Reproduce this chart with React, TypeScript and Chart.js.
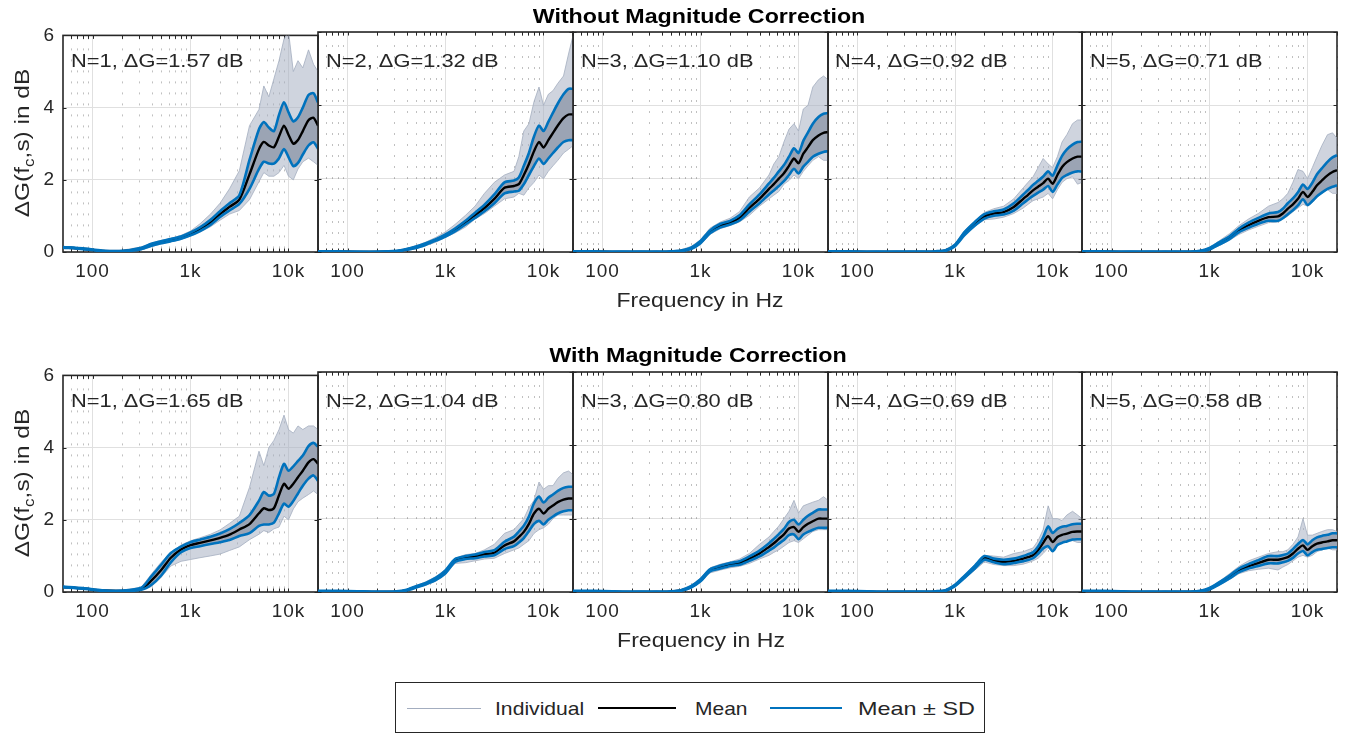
import React, { useEffect, useLayoutEffect, useRef } from "react";
import { Chart, registerables } from "chart.js";

Chart.register(...registerables);

// ---------------- data ----------------
const FREQ = [50, 80, 125, 200, 315, 400, 500, 630, 800, 1000, 1250, 1600, 2000, 2500, 3150, 4000, 5000, 5600, 6300, 7100, 8000, 9000, 10000, 11200, 12500, 14000, 16000, 18000, 20000];
const X_TICKS = [100, 1000, 10000];
const X_TICK_LABELS = ["100", "1k", "10k"];
const X_MINOR = [60, 70, 80, 90, 200, 300, 400, 500, 600, 700, 800, 900, 2000, 3000, 4000, 5000, 6000, 7000, 8000, 9000, 20000];
const Y_TICKS = [0, 2, 4, 6];

const TITLE_TOP = "Without Magnitude Correction";
const TITLE_BOTTOM = "With Magnitude Correction";
const LABELS_TOP = ["N=1, \u0394G=1.57 dB", "N=2, \u0394G=1.32 dB", "N=3, \u0394G=1.10 dB", "N=4, \u0394G=0.92 dB", "N=5, \u0394G=0.71 dB"];
const LABELS_BOTTOM = ["N=1, \u0394G=1.65 dB", "N=2, \u0394G=1.04 dB", "N=3, \u0394G=0.80 dB", "N=4, \u0394G=0.69 dB", "N=5, \u0394G=0.58 dB"];
const LEGEND_LABELS = ["Individual", "Mean", "Mean \u00b1 SD"];

// Without magnitude correction
const woN1Mean = [0.13, 0.09, 0.03, 0.02, 0.10, 0.20, 0.27, 0.33, 0.40, 0.50, 0.63, 0.82, 1.05, 1.25, 1.45, 2.15, 2.85, 3.05, 2.95, 2.90, 3.20, 3.50, 3.25, 3.00, 3.10, 3.35, 3.65, 3.72, 3.50];
const woN1Sd = [0.01, 0.01, 0.01, 0.01, 0.02, 0.03, 0.03, 0.03, 0.03, 0.04, 0.05, 0.07, 0.08, 0.10, 0.12, 0.40, 0.55, 0.55, 0.50, 0.45, 0.60, 0.65, 0.62, 0.62, 0.63, 0.65, 0.70, 0.68, 0.64];
const woN1Hi = [0.15, 0.11, 0.05, 0.05, 0.14, 0.25, 0.32, 0.38, 0.46, 0.58, 0.78, 1.05, 1.35, 1.75, 2.25, 3.50, 3.95, 4.60, 4.30, 4.80, 5.30, 5.90, 6.10, 5.00, 5.30, 5.10, 5.60, 5.20, 5.00];
const woN1Lo = [0.11, 0.07, 0.01, 0.00, 0.06, 0.15, 0.22, 0.28, 0.35, 0.44, 0.55, 0.70, 0.88, 1.05, 1.15, 1.45, 1.95, 2.20, 2.10, 2.10, 2.20, 2.40, 2.10, 2.00, 2.30, 2.50, 2.60, 2.50, 2.40];

const woN2Mean = [0.01, 0.01, 0.00, 0.00, 0.02, 0.07, 0.13, 0.22, 0.33, 0.45, 0.60, 0.80, 1.00, 1.20, 1.45, 1.75, 1.80, 1.85, 2.10, 2.40, 2.75, 3.00, 2.85, 3.05, 3.25, 3.45, 3.65, 3.75, 3.75];
const woN2Sd = [0.01, 0.01, 0.01, 0.01, 0.01, 0.01, 0.02, 0.02, 0.02, 0.03, 0.04, 0.05, 0.07, 0.09, 0.12, 0.15, 0.15, 0.18, 0.25, 0.30, 0.40, 0.45, 0.45, 0.50, 0.55, 0.60, 0.65, 0.70, 0.70];
const woN2Hi = [0.03, 0.03, 0.02, 0.02, 0.04, 0.10, 0.17, 0.27, 0.40, 0.55, 0.75, 1.00, 1.25, 1.60, 1.90, 2.10, 2.20, 2.60, 3.30, 3.50, 4.10, 4.50, 4.00, 4.30, 4.40, 4.60, 4.80, 5.40, 5.90];
const woN2Lo = [0.00, 0.00, 0.00, 0.00, 0.00, 0.04, 0.09, 0.17, 0.27, 0.40, 0.52, 0.68, 0.90, 1.05, 1.25, 1.45, 1.50, 1.60, 1.55, 1.75, 1.90, 2.10, 2.00, 2.20, 2.35, 2.50, 2.70, 2.80, 2.90];

const woN3Mean = [0.01, 0.01, 0.00, 0.00, 0.00, 0.00, 0.01, 0.03, 0.10, 0.27, 0.55, 0.72, 0.80, 0.93, 1.20, 1.45, 1.72, 1.85, 2.00, 2.15, 2.35, 2.55, 2.42, 2.68, 2.86, 3.05, 3.18, 3.25, 3.27];
const woN3Sd = [0.01, 0.01, 0.01, 0.01, 0.01, 0.01, 0.01, 0.01, 0.02, 0.03, 0.04, 0.05, 0.05, 0.07, 0.10, 0.12, 0.15, 0.17, 0.20, 0.22, 0.25, 0.28, 0.28, 0.35, 0.40, 0.45, 0.50, 0.52, 0.52];
const woN3Hi = [0.03, 0.03, 0.02, 0.02, 0.02, 0.02, 0.03, 0.06, 0.15, 0.33, 0.65, 0.82, 0.92, 1.10, 1.50, 1.75, 2.10, 2.40, 2.60, 3.00, 3.35, 3.50, 3.30, 3.90, 4.00, 4.50, 4.70, 4.80, 4.70];
const woN3Lo = [0.00, 0.00, 0.00, 0.00, 0.00, 0.00, 0.00, 0.01, 0.06, 0.20, 0.48, 0.64, 0.72, 0.82, 1.00, 1.25, 1.45, 1.55, 1.65, 1.85, 1.95, 2.10, 2.00, 2.20, 2.35, 2.50, 2.60, 2.50, 2.50];

const woN4Mean = [0.01, 0.01, 0.00, 0.00, 0.00, 0.00, 0.00, 0.01, 0.04, 0.18, 0.50, 0.77, 0.97, 1.05, 1.09, 1.23, 1.45, 1.56, 1.68, 1.78, 1.88, 2.00, 1.86, 2.10, 2.32, 2.45, 2.55, 2.60, 2.60];
const woN4Sd = [0.01, 0.01, 0.01, 0.01, 0.01, 0.01, 0.01, 0.01, 0.01, 0.02, 0.04, 0.05, 0.06, 0.06, 0.07, 0.10, 0.12, 0.13, 0.15, 0.16, 0.18, 0.20, 0.22, 0.26, 0.30, 0.35, 0.38, 0.40, 0.41];
const woN4Hi = [0.03, 0.03, 0.02, 0.02, 0.02, 0.02, 0.02, 0.03, 0.07, 0.22, 0.58, 0.85, 1.08, 1.18, 1.25, 1.45, 1.75, 1.90, 2.05, 2.30, 2.55, 2.40, 2.30, 2.60, 3.00, 3.20, 3.50, 3.60, 3.60];
const woN4Lo = [0.00, 0.00, 0.00, 0.00, 0.00, 0.00, 0.00, 0.00, 0.02, 0.14, 0.42, 0.70, 0.88, 0.90, 0.95, 1.05, 1.20, 1.30, 1.40, 1.45, 1.50, 1.60, 1.45, 1.70, 1.90, 2.00, 2.05, 1.85, 1.90];

const woN5Mean = [0.01, 0.01, 0.00, 0.00, 0.00, 0.00, 0.00, 0.00, 0.02, 0.09, 0.23, 0.39, 0.59, 0.73, 0.85, 0.95, 0.97, 1.05, 1.18, 1.30, 1.45, 1.64, 1.50, 1.64, 1.82, 1.95, 2.09, 2.18, 2.23];
const woN5Sd = [0.01, 0.01, 0.01, 0.01, 0.01, 0.01, 0.01, 0.01, 0.01, 0.02, 0.03, 0.04, 0.05, 0.07, 0.08, 0.10, 0.12, 0.13, 0.15, 0.16, 0.18, 0.20, 0.22, 0.25, 0.30, 0.33, 0.37, 0.40, 0.41];
const woN5Hi = [0.03, 0.03, 0.02, 0.02, 0.02, 0.02, 0.02, 0.02, 0.05, 0.12, 0.30, 0.50, 0.72, 0.90, 1.05, 1.25, 1.35, 1.45, 1.60, 1.90, 2.25, 2.20, 2.00, 2.30, 2.60, 2.90, 3.20, 3.25, 3.10];
const woN5Lo = [0.00, 0.00, 0.00, 0.00, 0.00, 0.00, 0.00, 0.00, 0.00, 0.06, 0.17, 0.32, 0.48, 0.60, 0.70, 0.80, 0.82, 0.90, 0.98, 1.10, 1.20, 1.30, 1.25, 1.35, 1.50, 1.60, 1.70, 1.60, 1.60];

// With magnitude correction
const wN1Mean = [0.14, 0.10, 0.04, 0.03, 0.09, 0.32, 0.60, 0.95, 1.18, 1.30, 1.36, 1.43, 1.50, 1.59, 1.73, 1.88, 2.18, 2.32, 2.27, 2.32, 2.68, 3.00, 2.86, 3.00, 3.18, 3.36, 3.59, 3.68, 3.55];
const wN1Sd = [0.01, 0.01, 0.01, 0.01, 0.03, 0.12, 0.15, 0.13, 0.08, 0.08, 0.09, 0.10, 0.12, 0.15, 0.18, 0.25, 0.35, 0.45, 0.40, 0.40, 0.50, 0.55, 0.50, 0.48, 0.45, 0.42, 0.45, 0.45, 0.47];
const wN1Hi = [0.16, 0.12, 0.06, 0.05, 0.13, 0.50, 0.82, 1.10, 1.30, 1.42, 1.50, 1.60, 1.72, 1.90, 2.10, 2.90, 3.90, 3.50, 4.00, 4.20, 4.50, 4.90, 4.50, 4.40, 4.60, 4.50, 4.60, 4.60, 4.50];
const wN1Lo = [0.12, 0.08, 0.02, 0.01, 0.05, 0.15, 0.40, 0.72, 0.85, 0.90, 0.95, 1.00, 1.05, 1.15, 1.25, 1.45, 1.60, 1.70, 1.65, 1.75, 1.80, 2.10, 2.00, 2.30, 2.50, 2.60, 2.70, 2.80, 2.70];

const wN2Mean = [0.02, 0.02, 0.01, 0.00, 0.01, 0.05, 0.14, 0.23, 0.36, 0.55, 0.86, 0.94, 0.97, 1.03, 1.07, 1.27, 1.38, 1.50, 1.64, 1.86, 2.14, 2.27, 2.14, 2.27, 2.36, 2.45, 2.52, 2.55, 2.55];
const wN2Sd = [0.01, 0.01, 0.01, 0.01, 0.01, 0.01, 0.02, 0.02, 0.03, 0.04, 0.04, 0.04, 0.05, 0.06, 0.07, 0.10, 0.13, 0.15, 0.17, 0.20, 0.28, 0.33, 0.30, 0.30, 0.30, 0.31, 0.32, 0.32, 0.32];
const wN2Hi = [0.04, 0.04, 0.03, 0.02, 0.03, 0.07, 0.17, 0.28, 0.42, 0.62, 0.92, 1.02, 1.05, 1.15, 1.30, 1.60, 1.70, 1.85, 2.00, 2.30, 2.50, 3.00, 2.80, 2.90, 2.90, 3.10, 3.25, 3.30, 3.20];
const wN2Lo = [0.00, 0.00, 0.00, 0.00, 0.00, 0.03, 0.11, 0.18, 0.30, 0.48, 0.78, 0.80, 0.85, 0.90, 0.92, 1.05, 1.15, 1.20, 1.30, 1.40, 1.60, 1.70, 1.75, 1.85, 2.00, 2.10, 2.10, 2.10, 2.10];

const wN3Mean = [0.02, 0.02, 0.01, 0.00, 0.00, 0.00, 0.01, 0.04, 0.14, 0.32, 0.59, 0.68, 0.75, 0.79, 0.91, 1.05, 1.23, 1.33, 1.45, 1.57, 1.73, 1.77, 1.64, 1.77, 1.86, 1.93, 2.00, 2.00, 2.00];
const wN3Sd = [0.01, 0.01, 0.01, 0.01, 0.01, 0.01, 0.01, 0.01, 0.02, 0.03, 0.03, 0.04, 0.04, 0.05, 0.06, 0.08, 0.10, 0.12, 0.13, 0.15, 0.18, 0.20, 0.20, 0.20, 0.22, 0.23, 0.25, 0.25, 0.25];
const wN3Hi = [0.04, 0.04, 0.03, 0.02, 0.02, 0.02, 0.03, 0.07, 0.18, 0.38, 0.66, 0.76, 0.82, 0.90, 1.05, 1.30, 1.50, 1.65, 1.80, 2.00, 2.20, 2.50, 2.15, 2.35, 2.40, 2.45, 2.50, 2.60, 2.50];
const wN3Lo = [0.00, 0.00, 0.00, 0.00, 0.00, 0.00, 0.00, 0.02, 0.10, 0.26, 0.52, 0.60, 0.66, 0.70, 0.78, 0.90, 1.00, 1.08, 1.15, 1.25, 1.35, 1.40, 1.35, 1.45, 1.55, 1.65, 1.70, 1.70, 1.70];

const wN4Mean = [0.02, 0.02, 0.01, 0.00, 0.00, 0.00, 0.00, 0.01, 0.04, 0.18, 0.41, 0.68, 0.93, 0.86, 0.82, 0.85, 0.91, 0.95, 1.00, 1.14, 1.34, 1.52, 1.36, 1.50, 1.56, 1.59, 1.64, 1.65, 1.65];
const wN4Sd = [0.01, 0.01, 0.01, 0.01, 0.01, 0.01, 0.01, 0.01, 0.01, 0.02, 0.03, 0.04, 0.05, 0.05, 0.06, 0.06, 0.07, 0.08, 0.08, 0.10, 0.15, 0.27, 0.25, 0.22, 0.22, 0.21, 0.21, 0.21, 0.21];
const wN4Hi = [0.04, 0.04, 0.03, 0.02, 0.02, 0.02, 0.02, 0.03, 0.07, 0.22, 0.46, 0.75, 1.00, 0.98, 0.95, 1.05, 1.10, 1.15, 1.20, 1.40, 1.70, 2.35, 2.00, 2.00, 1.95, 2.10, 2.20, 2.10, 2.00];
const wN4Lo = [0.00, 0.00, 0.00, 0.00, 0.00, 0.00, 0.00, 0.00, 0.02, 0.14, 0.36, 0.60, 0.82, 0.75, 0.72, 0.72, 0.76, 0.80, 0.85, 0.92, 1.05, 1.20, 1.20, 1.30, 1.35, 1.40, 1.40, 1.35, 1.35];

const wN5Mean = [0.02, 0.02, 0.01, 0.00, 0.00, 0.00, 0.00, 0.00, 0.02, 0.09, 0.23, 0.41, 0.59, 0.70, 0.79, 0.88, 0.88, 0.91, 0.95, 1.05, 1.18, 1.27, 1.15, 1.25, 1.32, 1.35, 1.38, 1.41, 1.41];
const wN5Sd = [0.01, 0.01, 0.01, 0.01, 0.01, 0.01, 0.01, 0.01, 0.01, 0.02, 0.03, 0.04, 0.05, 0.06, 0.08, 0.10, 0.10, 0.10, 0.10, 0.12, 0.13, 0.15, 0.15, 0.16, 0.17, 0.18, 0.18, 0.19, 0.19];
const wN5Hi = [0.04, 0.04, 0.03, 0.02, 0.02, 0.02, 0.02, 0.02, 0.05, 0.12, 0.28, 0.50, 0.70, 0.85, 0.95, 1.05, 1.10, 1.10, 1.15, 1.30, 1.50, 2.00, 1.55, 1.55, 1.60, 1.65, 1.70, 1.70, 1.65];
const wN5Lo = [0.00, 0.00, 0.00, 0.00, 0.00, 0.00, 0.00, 0.00, 0.00, 0.06, 0.18, 0.34, 0.50, 0.58, 0.62, 0.65, 0.60, 0.68, 0.75, 0.85, 0.95, 1.00, 0.95, 1.00, 1.10, 1.15, 1.20, 1.15, 1.15];

type Series = { mean: number[]; sd: number[]; hi: number[]; lo: number[] };
const TOP_SERIES: Series[] = [
  { mean: woN1Mean, sd: woN1Sd, hi: woN1Hi, lo: woN1Lo },
  { mean: woN2Mean, sd: woN2Sd, hi: woN2Hi, lo: woN2Lo },
  { mean: woN3Mean, sd: woN3Sd, hi: woN3Hi, lo: woN3Lo },
  { mean: woN4Mean, sd: woN4Sd, hi: woN4Hi, lo: woN4Lo },
  { mean: woN5Mean, sd: woN5Sd, hi: woN5Hi, lo: woN5Lo },
];
const BOTTOM_SERIES: Series[] = [
  { mean: wN1Mean, sd: wN1Sd, hi: wN1Hi, lo: wN1Lo },
  { mean: wN2Mean, sd: wN2Sd, hi: wN2Hi, lo: wN2Lo },
  { mean: wN3Mean, sd: wN3Sd, hi: wN3Hi, lo: wN3Lo },
  { mean: wN4Mean, sd: wN4Sd, hi: wN4Hi, lo: wN4Lo },
  { mean: wN5Mean, sd: wN5Sd, hi: wN5Hi, lo: wN5Lo },
];

// ---------------- style / layout ----------------
const FONT = '"Liberation Sans", Arial, Helvetica, sans-serif';
const AX = "#262626";
const BLUE = "#0072BD";
const INDIV = "#a3adbf";
const HAZE = "rgba(168,177,195,0.55)";
const BAND = "rgb(155,164,180)";
const PLOT_X0 = 63.3;
const PLOT_W = 254.75;
const PLOT_H = 220;
const ROW_TOP = [32, 372];
const L = 46, R = 10, T = 16, B = 40;

const framePlugin = {
  id: "frame",
  beforeDraw(chart: any) {
    (chart.ctx as any).letterSpacing = "1px";
  },
  afterDraw(chart: any) {
    (chart.ctx as any).letterSpacing = "0px";
  },
  beforeDatasetsDraw(chart: any) {
    const { ctx, chartArea, scales } = chart;
    const { left, right, top, bottom } = chartArea;
    const x = scales.x;
    const y = scales.y;
    ctx.save();
    ctx.letterSpacing = "0px";
    // minor vertical grid (dotted)
    ctx.strokeStyle = "rgba(60,60,60,0.32)";
    ctx.lineWidth = 1;
    ctx.setLineDash([2, 9]);
    X_MINOR.forEach((f) => {
      const px = Math.round(x.getPixelForValue(f)) + 0.5;
      ctx.beginPath();
      ctx.moveTo(px, top + 2);
      ctx.lineTo(px, bottom);
      ctx.stroke();
    });
    ctx.setLineDash([]);
    // frame
    ctx.strokeStyle = AX;
    ctx.lineWidth = 1.6;
    ctx.strokeRect(left, top, right - left, bottom - top);
    // inward ticks
    ctx.lineWidth = 1;
    const tl = 3.5;
    [...X_TICKS, ...X_MINOR].forEach((f) => {
      const px = Math.round(x.getPixelForValue(f)) + 0.5;
      ctx.beginPath();
      ctx.moveTo(px, bottom);
      ctx.lineTo(px, bottom - tl);
      ctx.moveTo(px, top);
      ctx.lineTo(px, top + tl);
      ctx.stroke();
    });
    Y_TICKS.forEach((v) => {
      const py = Math.round(y.getPixelForValue(v)) + 0.5;
      ctx.beginPath();
      ctx.moveTo(left, py);
      ctx.lineTo(left + tl, py);
      ctx.moveTo(right, py);
      ctx.lineTo(right - tl, py);
      ctx.stroke();
    });
    ctx.restore();
  },
};

function Panel({ p, row, series, showY }: { p: number; row: number; series: Series; showY: boolean }) {
  const ref = useRef<HTMLCanvasElement>(null);
  const left = Math.round(PLOT_X0 + p * PLOT_W);
  const right = Math.round(PLOT_X0 + (p + 1) * PLOT_W);
  const top = ROW_TOP[row];
  const cw = right - left + L + R;
  const ch = PLOT_H + T + B;

  useEffect(() => {
    const { mean, sd, hi, lo } = series;
    const pts = (a: number[]) => a.map((v, i) => ({ x: FREQ[i], y: v }));
    const upper = mean.map((m, i) => m + sd[i]);
    const lower = mean.map((m, i) => m - sd[i]);
    const tickFont = { family: FONT, size: 19 };
    const chart = new Chart(ref.current as HTMLCanvasElement, {
      type: "line",
      data: {
        datasets: [
          { data: pts(hi), borderColor: INDIV, borderWidth: 0.8, fill: "+1", backgroundColor: HAZE, tension: 0, order: 4 },
          { data: pts(lo), borderColor: INDIV, borderWidth: 0.8, fill: false, tension: 0, order: 4 },
          { data: pts(upper), borderWidth: 0, borderColor: "rgba(0,0,0,0)", fill: "+1", backgroundColor: BAND, tension: 0.25, order: 3 },
          { data: pts(lower), borderWidth: 0, borderColor: "rgba(0,0,0,0)", fill: false, tension: 0.25, order: 3 },
          { data: pts(mean), borderColor: "#000000", borderWidth: 2.4, fill: false, tension: 0.25, order: 2 },
          { data: pts(upper), borderColor: BLUE, borderWidth: 2.6, fill: false, tension: 0.25, order: 0 },
          { data: pts(lower), borderColor: BLUE, borderWidth: 2.6, fill: false, tension: 0.25, order: 0 },
        ] as any,
      },
      options: {
        responsive: false,
        animation: false,
        devicePixelRatio: 1,
        events: [],
        layout: { padding: { top: T, right: R, left: 0, bottom: 0 } },
        elements: { point: { radius: 0 } },
        plugins: { legend: { display: false }, tooltip: { enabled: false }, title: { display: false } },
        scales: {
          x: {
            type: "logarithmic",
            min: 50,
            max: 20000,
            afterBuildTicks: (s: any) => {
              s.ticks = X_TICKS.map((v) => ({ value: v }));
            },
            afterFit: (s: any) => {
              s.height = B;
            },
            ticks: {
              autoSkip: false,
              maxRotation: 0,
              minRotation: 0,
              padding: 8,
              color: AX,
              font: tickFont,
              callback: (v: any) => X_TICK_LABELS[X_TICKS.indexOf(Number(v))],
            },
            grid: { color: "#e0e0e0", lineWidth: 1, drawTicks: false },
            border: { display: false },
          },
          y: {
            type: "linear",
            min: 0,
            max: 6,
            afterBuildTicks: (s: any) => {
              s.ticks = Y_TICKS.map((v) => ({ value: v }));
            },
            afterFit: (s: any) => {
              s.width = L;
            },
            ticks: { display: showY, padding: 8, color: AX, font: tickFont },
            grid: { color: "#e0e0e0", lineWidth: 1, drawTicks: false },
            border: { display: false },
          },
        },
      } as any,
      plugins: [framePlugin as any],
    });
    return () => chart.destroy();
  }, []);

  return (
    <canvas
      ref={ref}
      width={cw}
      height={ch}
      style={{ position: "absolute", left: left - L, top: top - T, width: cw, height: ch }}
    />
  );
}

type FitProps = {
  x: number;
  y: number;
  w?: number;
  sx?: number;
  size: number;
  bold?: boolean;
  rotate?: boolean;
  anchor?: "left" | "center";
  color?: string;
  children: React.ReactNode;
};

function FitText({ x, y, w, sx, size, bold, rotate, anchor = "center", color = AX, children }: FitProps) {
  const ref = useRef<HTMLDivElement>(null);
  useLayoutEffect(() => {
    const el = ref.current;
    if (!el) return;
    const nat = el.offsetWidth || 1;
    const s = w ? w / nat : sx ?? 1;
    if (anchor === "left") {
      el.style.transformOrigin = "0 50%";
      el.style.transform = `translate(0,-50%) scaleX(${s})`;
    } else {
      el.style.transform = `translate(-50%,-50%)${rotate ? " rotate(-90deg)" : ""} scaleX(${s})`;
    }
  }, []);
  return (
    <div
      ref={ref}
      style={{
        position: "absolute",
        left: x,
        top: y,
        whiteSpace: "nowrap",
        fontFamily: FONT,
        fontSize: size,
        fontWeight: bold ? "bold" : "normal",
        lineHeight: 1,
        color,
        transform: "translate(-50%,-50%)",
      }}
    >
      {children}
    </div>
  );
}

function YLabel({ cy }: { cy: number }) {
  return (
    <FitText x={20.5} y={cy} w={149} size={21} rotate>
      {"\u0394G(f"}
      <span style={{ fontSize: "0.7em", position: "relative", top: "0.32em" }}>c</span>
      {",s) in dB"}
    </FitText>
  );
}

export default function App() {
  const panels: React.ReactNode[] = [];
  const texts: React.ReactNode[] = [];
  [TOP_SERIES, BOTTOM_SERIES].forEach((rowSeries, row) => {
    rowSeries.forEach((s, p) => {
      panels.push(<Panel key={`c${row}${p}`} p={p} row={row} series={s} showY={p === 0} />);
      const lbl = row === 0 ? LABELS_TOP[p] : LABELS_BOTTOM[p];
      texts.push(
        <FitText key={`t${row}${p}`} x={PLOT_X0 + p * PLOT_W + 7.7} y={ROW_TOP[row] + 28.3} sx={1.15} size={19} anchor="left">
          {lbl}
        </FitText>
      );
    });
  });

  return (
    <div style={{ position: "absolute", left: 0, top: 0, width: 1353, height: 735, background: "#fff", overflow: "hidden" }}>
      {panels}
      {texts}
      <FitText x={699} y={15.5} w={332} size={20} bold color="#000">
        {TITLE_TOP}
      </FitText>
      <FitText x={698} y={355} w={297} size={20} bold color="#000">
        {TITLE_BOTTOM}
      </FitText>
      <FitText x={700} y={298.5} w={167} size={21}>
        Frequency in Hz
      </FitText>
      <FitText x={701} y={638.5} w={168} size={21}>
        Frequency in Hz
      </FitText>
      <YLabel cy={142.5} />
      <YLabel cy={482.5} />
      {/* legend */}
      <div
        style={{
          position: "absolute",
          left: 395,
          top: 682,
          width: 590,
          height: 51,
          border: `1px solid ${AX}`,
          boxSizing: "border-box",
          background: "#fff",
        }}
      />
      <div style={{ position: "absolute", left: 407, top: 707.5, width: 74, height: 1, background: INDIV }} />
      <div style={{ position: "absolute", left: 598, top: 706.5, width: 78, height: 2.5, background: "#000" }} />
      <div style={{ position: "absolute", left: 770, top: 706.5, width: 72, height: 2.5, background: BLUE }} />
      <FitText x={495} y={708} w={89} size={19} anchor="left">
        {LEGEND_LABELS[0]}
      </FitText>
      <FitText x={695} y={708} w={53} size={19} anchor="left">
        {LEGEND_LABELS[1]}
      </FitText>
      <FitText x={858} y={708} w={117} size={19} anchor="left">
        {LEGEND_LABELS[2]}
      </FitText>
    </div>
  );
}
